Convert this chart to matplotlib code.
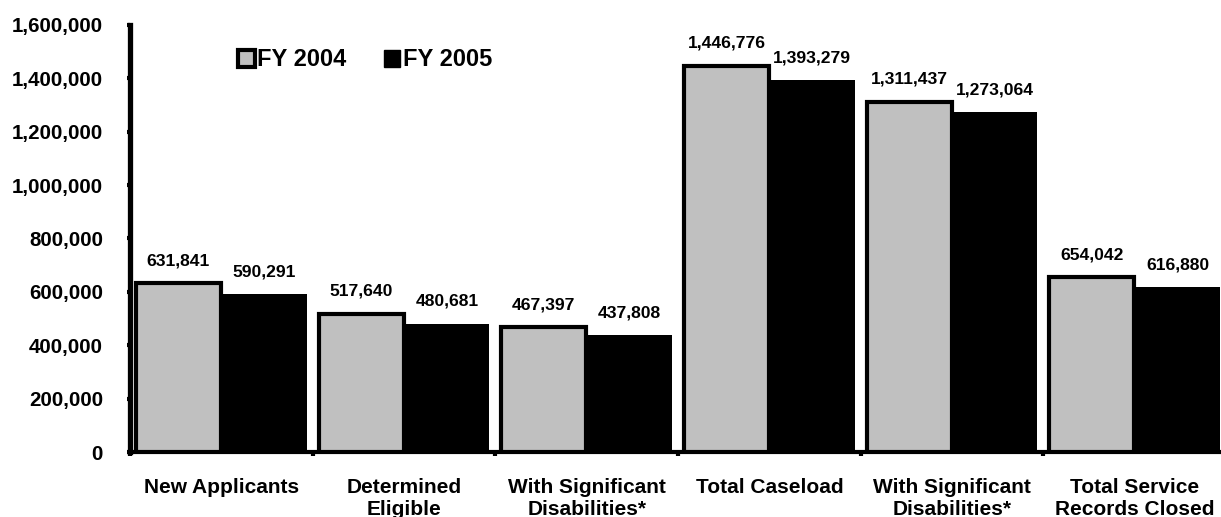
import matplotlib
matplotlib.use("Agg")
import matplotlib.pyplot as plt
from matplotlib.patches import Patch
from matplotlib.ticker import FuncFormatter, MultipleLocator
import numpy as np

categories = ["New Applicants", "Determined\nEligible", "With Significant\nDisabilities*",
              "Total Caseload", "With Significant\nDisabilities*", "Total Service\nRecords Closed"]
fy2004 = [631841, 517640, 467397, 1446776, 1311437, 654042]
fy2005 = [590291, 480681, 437808, 1393279, 1273064, 616880]
series_names = ["FY 2004", "FY 2005"]

plt.rcParams["font.family"] = ["Liberation Sans", "DejaVu Sans"]
plt.rcParams["font.weight"] = "bold"

fig = plt.figure(figsize=(12.21, 5.17), dpi=100)
ax = fig.add_axes([130 / 1221, 65 / 517, 1096 / 1221, 427 / 517])

x = np.arange(len(categories))
w = 0.465
off = 0.235

ax.bar(x + off, fy2005, width=w, color="black", edgecolor="black", linewidth=0, zorder=2)
ax.bar(x - off, fy2004, width=w, color="#c0c0c0", edgecolor="black", linewidth=3, zorder=3)

# value labels above each bar
for xs, vals in [(x - off, fy2004), (x + off, fy2005)]:
    for xi, v in zip(xs, vals):
        ax.annotate(f"{v:,}", (xi, v), xytext=(0, 13), textcoords="offset points",
                    ha="center", va="baseline", fontsize=12.6, fontweight="bold")

ax.set_xlim(-0.5, len(categories) - 0.5)
ax.set_ylim(0, 1600000)

ax.yaxis.set_major_locator(MultipleLocator(200000))
ax.yaxis.set_major_formatter(FuncFormatter(lambda v, p: f"{int(v):,}"))
ax.tick_params(axis="y", direction="out", length=2.5, width=3, pad=17, labelsize=14.8)

ax.set_xticks(x)
ax.set_xticklabels(categories, fontsize=15, fontweight="bold", linespacing=1.2)
ax.set_xticks(np.arange(-0.5, len(categories)), minor=True)
ax.tick_params(axis="x", which="major", length=0, pad=18.5)
ax.tick_params(axis="x", which="minor", direction="out", length=3, width=3)

for s in ["top", "right"]:
    ax.spines[s].set_visible(False)
ax.spines["left"].set_linewidth(3.8)
ax.spines["bottom"].set_linewidth(3)

handles = [Patch(facecolor="#c0c0c0", edgecolor="black", linewidth=3),
           Patch(facecolor="black", edgecolor="black")]
fig.legend(handles, series_names, loc="center left", bbox_to_anchor=(238 / 1221, 1 - 60 / 517),
           ncol=2, frameon=False, handlelength=0.7, handleheight=0.7,
           handletextpad=0.1, columnspacing=1.6, borderpad=0, borderaxespad=0,
           prop={"weight": "bold", "size": 17})

fig.savefig("out.png", dpi=100)
